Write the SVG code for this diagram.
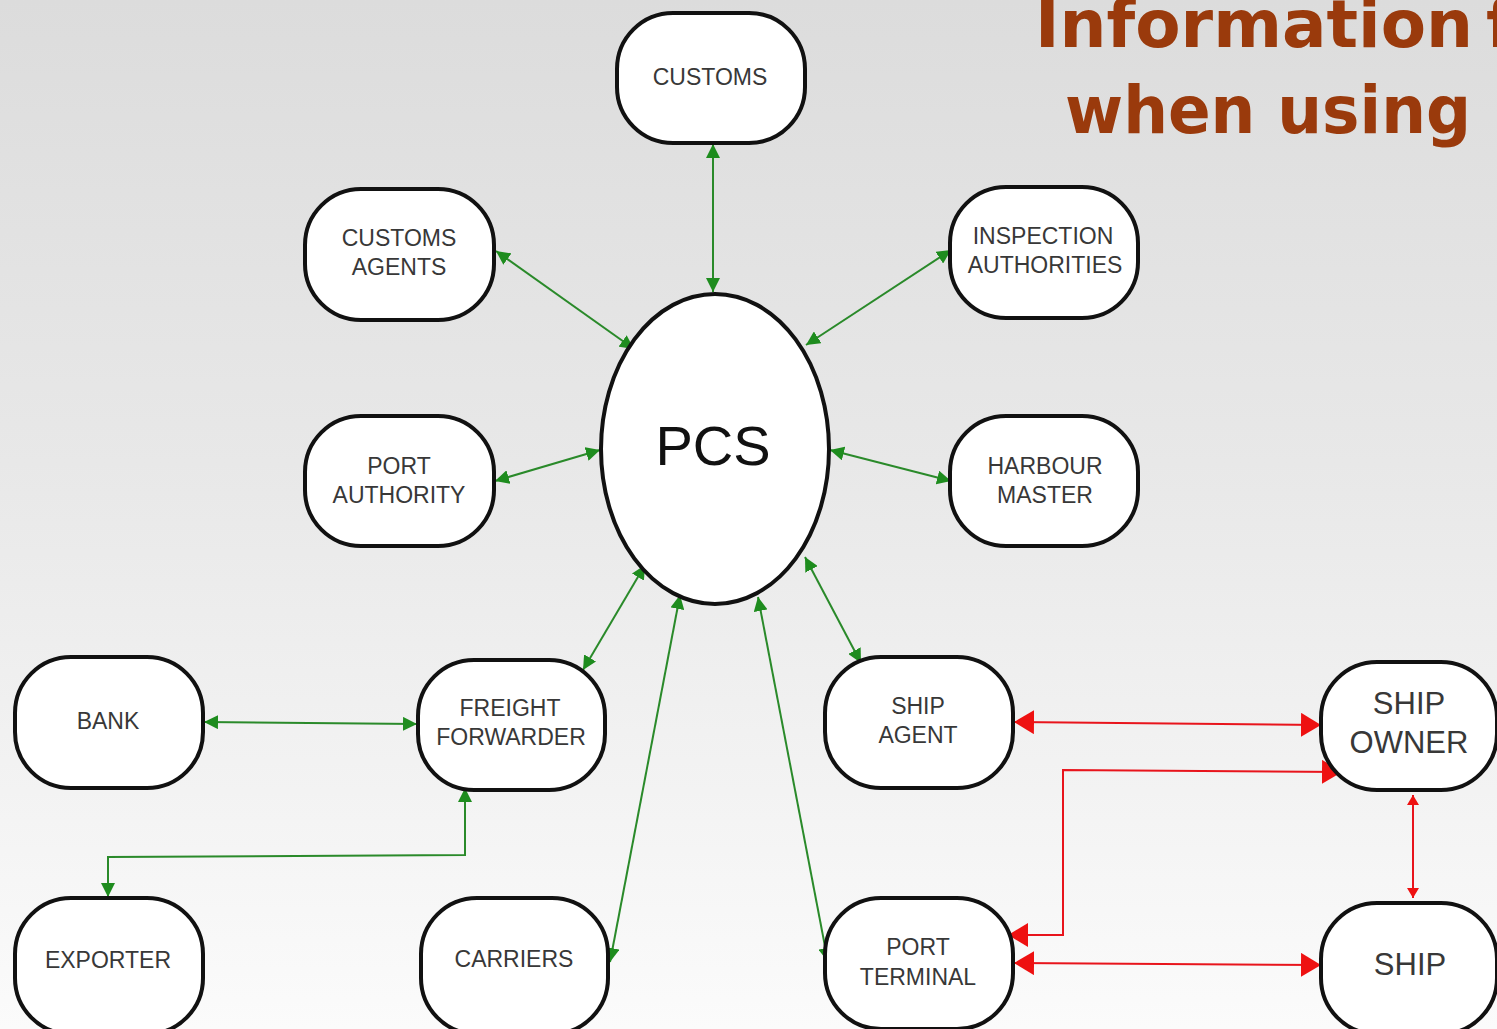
<svg xmlns="http://www.w3.org/2000/svg" width="1497" height="1029" viewBox="0 0 1497 1029">
  <defs>
    <linearGradient id="bg" x1="0" y1="0" x2="0" y2="1">
      <stop offset="0" stop-color="#dcdcdc"/>
      <stop offset="0.45" stop-color="#e8e8e8"/>
      <stop offset="1" stop-color="#fbfbfb"/>
    </linearGradient>
    <marker id="ag" viewBox="0 0 14 14" refX="14" refY="7" markerWidth="14" markerHeight="14" markerUnits="userSpaceOnUse" orient="auto-start-reverse">
      <path d="M0,0 L14,7 L0,14 Z" fill="#1e8c1e"/>
    </marker>
    <marker id="ar" viewBox="0 0 20 24" refX="20" refY="12" markerWidth="20" markerHeight="24" markerUnits="userSpaceOnUse" orient="auto-start-reverse">
      <path d="M0,0 L20,12 L0,24 Z" fill="#ee1111"/>
    </marker>
    <marker id="ars" viewBox="0 0 10 12" refX="10" refY="6" markerWidth="10" markerHeight="12" markerUnits="userSpaceOnUse" orient="auto-start-reverse">
      <path d="M0,0 L10,6 L0,12 Z" fill="#ee1111"/>
    </marker>
  </defs>
  <style>
    .box { fill: #ffffff; stroke: #111111; stroke-width: 4; }
    .lbl { font-family: "Liberation Sans", Arial, sans-serif; font-size: 23px; fill: #383838; text-anchor: middle; }
    .big { font-size: 31px; }
    .pcs { font-family: "Liberation Sans", Arial, sans-serif; font-size: 56px; fill: #111111; text-anchor: middle; }
    .title { font-family: "DejaVu Sans", Verdana, sans-serif; font-weight: bold; font-size: 66px; fill: #9a3a0c; }
    .g { fill: none; stroke: #2a8a2a; stroke-width: 2; marker-start: url(#ag); marker-end: url(#ag); }
    .r { fill: none; stroke: #e8141c; stroke-width: 2; marker-start: url(#ar); marker-end: url(#ar); }
    .rs { fill: none; stroke: #e8141c; stroke-width: 2; marker-start: url(#ars); marker-end: url(#ars); }
  </style>

  <rect x="0" y="0" width="1497" height="1029" fill="url(#bg)"/>

  <!-- heading -->
  <g id="title">
    <text class="title" x="1035" y="47" word-spacing="-10">Information f</text>
    <text class="title" x="1065" y="133" textLength="406" lengthAdjust="spacingAndGlyphs">when using</text>
  </g>

  <!-- links -->
  <g id="connectors">
    <line class="g" x1="713" y1="144" x2="713" y2="292"/>
    <line class="g" x1="496" y1="251" x2="634" y2="349"/>
    <line class="g" x1="951" y1="250" x2="806" y2="345"/>
    <line class="g" x1="495" y1="481" x2="600" y2="450"/>
    <line class="g" x1="951" y1="481" x2="830" y2="450"/>
    <line class="g" x1="645" y1="565" x2="583" y2="670"/>
    <line class="g" x1="680" y1="595" x2="610" y2="962"/>
    <line class="g" x1="758" y1="597" x2="828" y2="962"/>
    <line class="g" x1="805" y1="557" x2="861" y2="663"/>
    <line class="g" x1="204" y1="722" x2="417" y2="724"/>
    <polyline class="g" points="465,788 465,855 108,857 108,897"/>
    <line class="r" x1="1014" y1="722" x2="1321" y2="725"/>
    <polyline class="r" points="1008,935 1063,935 1063,770 1342,772"/>
    <line class="r" x1="1014" y1="963" x2="1321" y2="965"/>
    <line class="rs" x1="1413" y1="795" x2="1413" y2="898"/>
  </g>

  <!-- nodes -->
  <g id="customs">
    <rect class="box" x="617" y="13" width="188" height="130" rx="56" ry="56"/>
    <text class="lbl" x="710" y="85">CUSTOMS</text>
  </g>
  <g id="customs-agents">
    <rect class="box" x="305" y="189" width="189" height="131" rx="56" ry="56"/>
    <text class="lbl" x="399" y="246">CUSTOMS</text>
    <text class="lbl" x="399" y="275">AGENTS</text>
  </g>
  <g id="inspection-authorities">
    <rect class="box" x="950" y="187" width="188" height="131" rx="56" ry="56"/>
    <text class="lbl" x="1043" y="244">INSPECTION</text>
    <text class="lbl" x="1045" y="273">AUTHORITIES</text>
  </g>
  <g id="port-authority">
    <rect class="box" x="305" y="416" width="189" height="130" rx="56" ry="56"/>
    <text class="lbl" x="399" y="474">PORT</text>
    <text class="lbl" x="399" y="503">AUTHORITY</text>
  </g>
  <g id="harbour-master">
    <rect class="box" x="950" y="416" width="188" height="130" rx="56" ry="56"/>
    <text class="lbl" x="1045" y="474">HARBOUR</text>
    <text class="lbl" x="1045" y="503">MASTER</text>
  </g>
  <g id="pcs">
    <ellipse class="box" cx="715" cy="449" rx="114" ry="155"/>
    <text class="pcs" x="713" y="465">PCS</text>
  </g>
  <g id="bank">
    <rect class="box" x="15" y="657" width="188" height="131" rx="56" ry="56"/>
    <text class="lbl" x="108" y="729">BANK</text>
  </g>
  <g id="freight-forwarder">
    <rect class="box" x="418" y="660" width="187" height="130" rx="56" ry="56"/>
    <text class="lbl" x="510" y="716">FREIGHT</text>
    <text class="lbl" x="511" y="745">FORWARDER</text>
  </g>
  <g id="ship-agent">
    <rect class="box" x="825" y="657" width="188" height="131" rx="56" ry="56"/>
    <text class="lbl" x="918" y="714">SHIP</text>
    <text class="lbl" x="918" y="743">AGENT</text>
  </g>
  <g id="ship-owner">
    <rect class="box" x="1321" y="662" width="176" height="128" rx="56" ry="56"/>
    <text class="lbl big" x="1409" y="714">SHIP</text>
    <text class="lbl big" x="1409" y="753">OWNER</text>
  </g>
  <g id="exporter">
    <rect class="box" x="15" y="898" width="188" height="136" rx="56" ry="56"/>
    <text class="lbl" x="108" y="968">EXPORTER</text>
  </g>
  <g id="carriers">
    <rect class="box" x="421" y="898" width="187" height="136" rx="56" ry="56"/>
    <text class="lbl" x="514" y="967">CARRIERS</text>
  </g>
  <g id="port-terminal">
    <rect class="box" x="825" y="898" width="188" height="131" rx="56" ry="56"/>
    <text class="lbl" x="918" y="955">PORT</text>
    <text class="lbl" x="918" y="985">TERMINAL</text>
  </g>
  <g id="ship">
    <rect class="box" x="1321" y="903" width="176" height="131" rx="56" ry="56"/>
    <text class="lbl big" x="1410" y="975">SHIP</text>
  </g>
</svg>
